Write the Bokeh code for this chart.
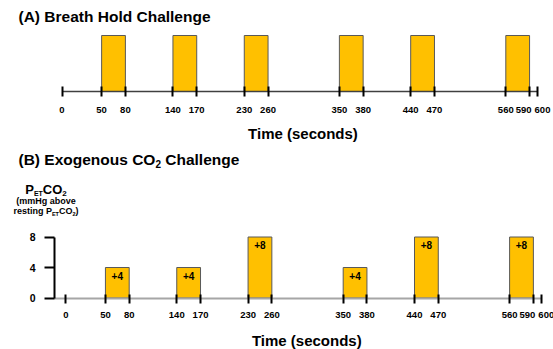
import numpy as np
from bokeh.plotting import figure
from bokeh.models import ColumnDataSource, FixedTicker, LabelSet, Range1d, LinearAxis
from bokeh.layouts import column
from bokeh.core.properties import value
from bokeh.embed import file_html
from bokeh.resources import INLINE

# ---------------- data ----------------
TIME_TICKS = [0, 50, 80, 140, 170, 230, 260, 350, 380, 440, 470, 560, 590, 600]
TIME_TICK_LABELS = [str(t) for t in TIME_TICKS]
BREATH_HOLD_START = [50, 140, 230, 350, 440, 560]
BREATH_HOLD_END = [80, 170, 260, 380, 470, 590]
CO2_START = [50, 140, 230, 350, 440, 560]
CO2_END = [80, 170, 260, 380, 470, 590]
CO2_LEVEL = [4, 4, 8, 4, 8, 8]          # mmHg above resting PETCO2
CO2_TICKS = [0, 4, 8]
TIME_END = 600

# ---------------- style ----------------
FONT = "Liberation Sans"
GOLD = "#FFC000"
EDGE = "#595959"
W = 553
K = 0.7925                        # px per second

# Arial/Liberation Sans Bold advance widths (per 1000 em) for run layout
ADV = {' ': 278, '(': 333, ')': 333, '+': 584, 'A': 722, 'B': 722, 'C': 722, 'E': 667,
       'H': 722, 'O': 778, 'P': 667, 'T': 611, 'a': 556, 'b': 611, 'c': 556, 'd': 611,
       'e': 556, 'g': 611, 'h': 611, 'i': 278, 'l': 278, 'm': 889, 'n': 611, 'o': 611,
       'r': 389, 's': 556, 't': 333, 'u': 611, 'v': 556, 'x': 556}


def text_w(s, size):
    return sum(ADV.get(c, 556) for c in s) * size / 1000.0


class Texts:
    def __init__(self, conv):
        self.conv = conv
        self.d = dict(x=[], y=[], text=[], size=[], align=[])

    def add(self, px, py, text, size, align="left"):
        x, y = self.conv(px, py)
        for k, v in zip(("x", "y", "text", "size", "align"), (x, y, text, f"{size}px", align)):
            self.d[k].append(v)

    def runs(self, px, py, runs, center=False):
        total = sum(text_w(t, s) for t, s, _ in runs)
        x = px - total / 2 if center else px
        for t, s, dy in runs:
            stripped = t.lstrip(" ")
            x += text_w(t[:len(t) - len(stripped)], s)
            self.add(x, py + dy, stripped, s)
            x += text_w(stripped, s)

    def render(self, p):
        p.add_layout(LabelSet(x="x", y="y", text="text", source=ColumnDataSource(self.d),
                              text_font=value(FONT), text_font_size="size",
                              text_font_style="bold", text_color="black",
                              text_align="align", text_baseline="alphabetic"))


def make_fig(height, x0, axis_y, ppu, top):
    """Figure whose frame fills the canvas; x0 = pixel of t=0, axis_y = pixel row of y=0."""
    p = figure(width=W, height=height, output_backend="svg", toolbar_location=None, title=None,
               x_axis_location=None, y_axis_location=None,
               x_range=Range1d(-x0 / K, (W - x0) / K),
               y_range=Range1d(-(height - axis_y) / ppu, axis_y / ppu),
               min_border=0)
    p.grid.visible = False
    p.outline_line_color = None
    p.background_fill_color = "white"
    p.border_fill_color = "white"

    def conv(px, py):
        return (px - x0) / K, (axis_y - (py - top)) / ppu
    return p, conv


def time_axis(p, line_color, line_width, tick_in, tick_out, start):
    ax = LinearAxis(fixed_location=0, ticker=FixedTicker(ticks=TIME_TICKS, minor_ticks=[]),
                    bounds=(start, TIME_END))
    ax.axis_line_color = line_color
    ax.axis_line_width = line_width
    ax.major_tick_line_color = "black"
    ax.major_tick_line_width = 2
    ax.major_tick_in = tick_in
    ax.major_tick_out = tick_out
    ax.minor_tick_line_color = None
    ax.major_label_text_color = None
    ax.major_label_text_font_size = "10px"
    p.add_layout(ax, "below")


def time_labels(p, conv, py):
    # the last two ticks sit close together: spread their labels apart a little
    nudge = [5 if t == TIME_TICKS[-1] else (-6 if t == TIME_TICKS[-2] else 0)
             for t in TIME_TICKS]
    src = ColumnDataSource(dict(x=TIME_TICKS, y=[conv(0, py)[1]] * len(TIME_TICKS),
                                text=TIME_TICK_LABELS, dx=nudge))
    p.add_layout(LabelSet(x="x", y="y", text="text", x_offset="dx", source=src,
                          text_font=value(FONT), text_font_size="9.5px",
                          text_font_style="bold", text_color="black",
                          text_align="center", text_baseline="alphabetic"))


# ================= Panel A (page rows 0..146) =================
HA = 146
pA, conv_a = make_fig(HA, 61.5, 91, 56.0, 0)

srcA = ColumnDataSource(dict(left=BREATH_HOLD_START, right=BREATH_HOLD_END,
                             top=[1] * len(BREATH_HOLD_START)))
pA.quad(left="left", right="right", bottom=0, top="top", source=srcA,
        fill_color=GOLD, line_color=EDGE, line_width=1)
time_axis(pA, "#404040", 1.5, 5, 5, 0)
time_labels(pA, conv_a, 112)
tA = Texts(conv_a)
tA.add(18, 21, "(A) Breath Hold Challenge", 15.5)
tA.add(302.5, 138, "Time (seconds)", 15, align="center")
tA.render(pA)

# ================= Panel B (page rows 146..349) =================
HB = 349 - HA
B_TOP = HA
B_X0 = 65.3
B_AXIS_PAGE = 297.5
B_PPU = 7.625
pB, conv_b = make_fig(HB, B_X0, B_AXIS_PAGE - B_TOP, B_PPU, B_TOP)
B_YAXIS_T = conv_b(54, 0)[0]       # time value where the y axis stands

srcB = ColumnDataSource(dict(left=CO2_START, right=CO2_END, top=CO2_LEVEL))
pB.quad(left="left", right="right", bottom=0, top="top", source=srcB,
        fill_color=GOLD, line_color=EDGE, line_width=1)

mid = (np.array(CO2_START) + np.array(CO2_END)) / 2.0
lvl = np.array(CO2_LEVEL, dtype=float)
barlab = ColumnDataSource(dict(x=mid, y=lvl - 12.3 / B_PPU,
                               text=[f"+{v}" for v in CO2_LEVEL]))
pB.add_layout(LabelSet(x="x", y="y", text="text", source=barlab,
                       text_font=value(FONT), text_font_size="10px", text_font_style="bold",
                       text_color="black", text_align="center", text_baseline="alphabetic"))

time_axis(pB, "#A6A6A6", 2, 4, 5, B_YAXIS_T)

axBy = LinearAxis(fixed_location=B_YAXIS_T, ticker=FixedTicker(ticks=CO2_TICKS, minor_ticks=[]),
                  bounds=(CO2_TICKS[0], CO2_TICKS[-1]))
axBy.axis_line_color = "black"
axBy.axis_line_width = 2
axBy.major_tick_line_color = "black"
axBy.major_tick_line_width = 2
axBy.major_tick_in = 0
axBy.major_tick_out = 10
axBy.minor_tick_line_color = None
axBy.major_label_standoff = 9
axBy.major_label_text_font = FONT
axBy.major_label_text_font_size = "10.5px"
axBy.major_label_text_font_style = "bold"
axBy.major_label_text_color = "black"
pB.add_layout(axBy, "left")

time_labels(pB, conv_b, 317)

tB = Texts(conv_b)
# title with subscript
tB.runs(18, 164.7, [("(B) Exogenous CO", 15.5, 0), ("2", 10, 3), (" Challenge", 15.5, 0)])
# y-axis caption
tB.runs(45.5, 193, [("P", 13, 0), ("ET", 7, 2.5), ("CO", 13, 0), ("2", 8, 2.5)], center=True)
tB.add(45.5, 203.5, "(mmHg above", 9, align="center")
tB.runs(45.5, 213.5, [("resting P", 9, 0), ("ET", 5.5, 1.5), ("CO", 9, 0),
                      ("2", 5.5, 1.5), (")", 9, 0)], center=True)
tB.add(306.3, 345, "Time (seconds)", 15, align="center")
tB.render(pB)

layout = column(pA, pB)
open("out.html", "w").write(file_html(layout, INLINE))
